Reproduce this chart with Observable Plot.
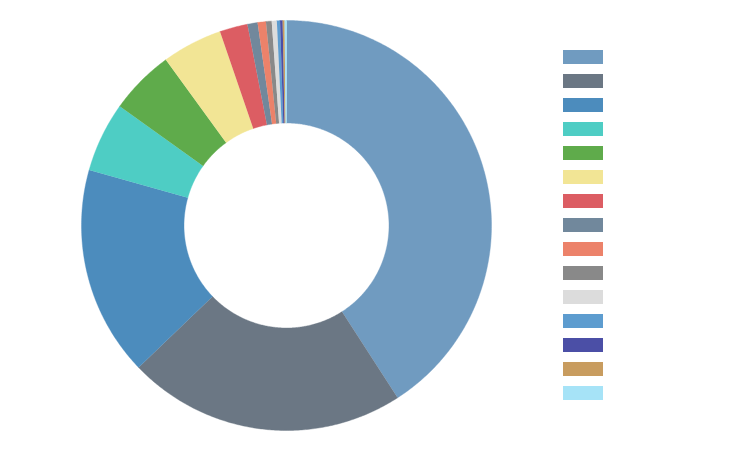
<!DOCTYPE html>
<html>
<head>
<meta charset="utf-8">
<script src="https://cdn.jsdelivr.net/npm/d3@7"></script>
<script src="https://cdn.jsdelivr.net/npm/@observablehq/plot@0.6"></script>
<style>
  html, body { margin: 0; padding: 0; background: #fff; }
  #wrap { position: relative; width: 734px; height: 450px; }
  #legend { position: absolute; left: 563px; top: 50px; }
</style>
</head>
<body>
<div id="wrap"><div id="chart"></div><div id="legend"></div></div>
<script>
const categories = ["类别1","类别2","类别3","类别4","类别5","类别6","类别7","类别8","类别9","类别10","类别11","类别12","类别13","类别14","类别15"];
const values = [40.8, 21.9, 16.5, 5.5, 5.1, 4.75, 2.2, 0.8, 0.65, 0.45, 0.4, 0.25, 0.2, 0.15, 0.15];
const colors = ["#709bc0","#6b7784","#4c8cbd","#4ecdc4","#5fab4b","#f2e595","#dc5d63","#71889c","#ec826a","#898989","#dcdcdc","#5d9ccf","#4b4fa6","#c89c5f","#a6e3f7"];

const data = categories.map((c, i) => ({key: c, value: values[i]}));
const arcs = d3.pie().sort(null).value(d => d.value)(data);
const R = 1, r0 = 0.5;
const pts = [];
const step = Math.PI / 360;
for (const a of arcs) {
  const n = Math.max(2, Math.ceil((a.endAngle - a.startAngle) / step));
  for (let i = 0; i <= n; i++) {
    const t = a.startAngle + (a.endAngle - a.startAngle) * i / n;
    pts.push({key: a.data.key, x: R * Math.sin(t), y: R * Math.cos(t)});
  }
  for (let i = n; i >= 0; i--) {
    const t = a.startAngle + (a.endAngle - a.startAngle) * i / n;
    pts.push({key: a.data.key, x: r0 * Math.sin(t), y: r0 * Math.cos(t)});
  }
}

const chart = Plot.plot({
  width: 734,
  height: 450,
  margin: 0,
  x: {domain: [-1, 1], range: [81, 491], axis: null},
  y: {domain: [-1, 1], range: [430, 20], axis: null},
  color: {domain: categories, range: colors},
  marks: [
    Plot.line(pts, {x: "x", y: "y", z: "key", fill: "key", stroke: "key", strokeWidth: 0.4, curve: "linear"})
  ]
});
document.getElementById("chart").appendChild(chart);

const legend = Plot.plot({
  width: 40,
  height: 350,
  margin: 0,
  x: {domain: ["s"], axis: null, padding: 0},
  y: {domain: categories, range: [0, 350], paddingInner: 10/24, paddingOuter: 0, axis: null},
  color: {domain: categories, range: colors},
  marks: [
    Plot.cell(categories, {x: () => "s", y: d => d, fill: d => d})
  ]
});
document.getElementById("legend").appendChild(legend);
</script>
</body>
</html>
